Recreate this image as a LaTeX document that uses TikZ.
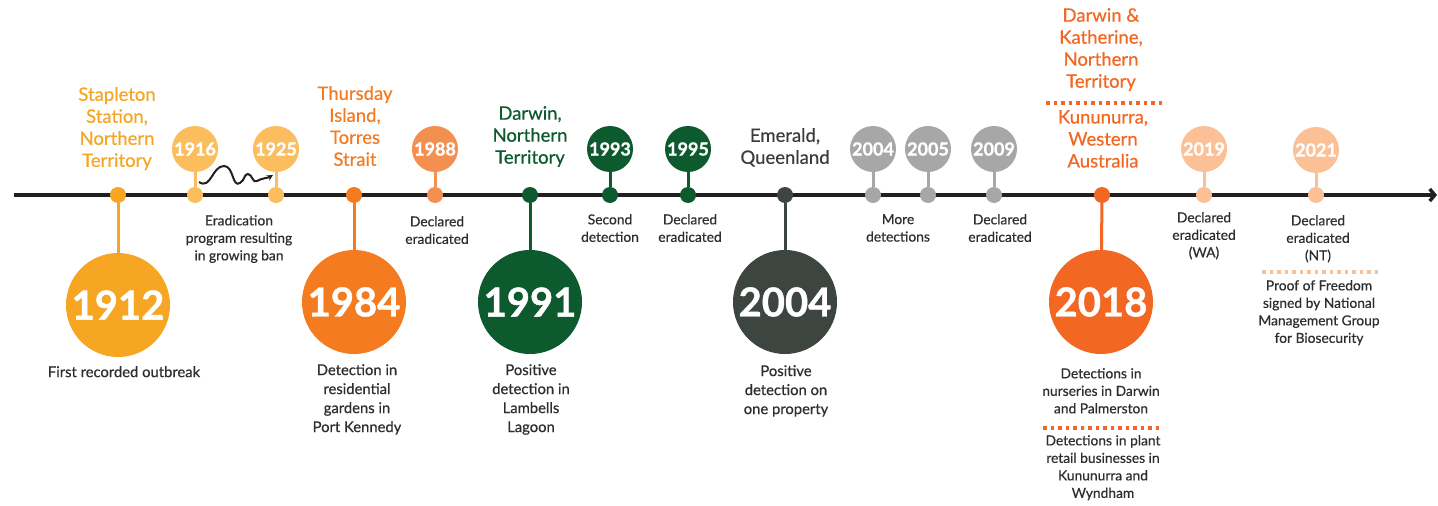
\documentclass[tikz,border=0pt]{standalone}
\usepackage{fontspec}
\setmainfont{Lato}
\newfontfamily\medfont{Lato}[FakeBold=0.5]
\newfontfamily\yrfont{Lato}[BoldFeatures={FakeBold=1}]
\usetikzlibrary{arrows.meta}

\definecolor{ink}{HTML}{231F20}
\definecolor{txt}{HTML}{2E2E2E}
\definecolor{cAmber}{HTML}{F6A623}
\definecolor{cAmberLt}{HTML}{FBBD5E}
\definecolor{cOrange}{HTML}{F47B20}
\definecolor{cOrangeLt}{HTML}{F3904F}
\definecolor{cGreen}{HTML}{0C5A2E}
\definecolor{cSlate}{HTML}{3C4540}
\definecolor{cSlateTxt}{HTML}{3C3C3C}
\definecolor{cGrey}{HTML}{A7A7A7}
\definecolor{cRed}{HTML}{F26722}
\definecolor{cPeach}{HTML}{FBC096}

% year digits: heavy bold, with white stroke so the glyph outlining stays white
\newcommand{\yrbig}{\yrfont\fontsize{40}{42}\selectfont\bfseries\pgfsetstrokecolor{white}}
\newcommand{\yrsmall}{\yrfont\fontsize{18}{20}\selectfont\bfseries\pgfsetstrokecolor{white}}
\newcommand{\placefnt}{\medfont\fontsize{18.5}{22}\selectfont}
\newcommand{\bodyS}{\medfont\fontsize{13.8}{17.5}\selectfont}
\newcommand{\bodyL}{\medfont\fontsize{14.8}{19}\selectfont}

\tikzset{
  dot/.style={circle, fill=#1, minimum size=16pt, inner sep=0pt},
  bigyear/.style={circle, fill=#1, minimum size=104pt, inner sep=0pt, text=white, font=\yrbig},
  smallyear/.style={circle, fill=#1, minimum size=46pt, inner sep=0pt, text=white, font=\yrsmall},
  stem/.style={draw=#1, line width=3pt},
  place/.style={align=center, text=#1, font=\placefnt, inner sep=0pt, anchor=north},
  body/.style={align=center, text=txt, font=\bodyS, inner sep=0pt, anchor=north},
  bodyl/.style={align=center, text=txt, font=\bodyL, inner sep=0pt, anchor=north},
  sep/.style={draw=#1, line width=3.5pt, dash pattern=on 3.5pt off 4pt},
  squig/.style={draw=ink, line width=2pt, -{Stealth[length=6pt,width=6pt]}},
}

\begin{document}
\begin{tikzpicture}[x=1pt,y=-1pt]
\useasboundingbox (0,0) rectangle (1438,506);
\fill[white] (0,0) rectangle (1438,506);

% main time axis
\coordinate (tlL) at (14,195);
\coordinate (tlR) at (1437,195);
\draw[ink, line width=3.5pt, -{Straight Barb[length=5pt,width=12pt]}] (tlL) -- (tlR);

% ---- 1912 ----
\node[dot=cAmber] (d1912) at (118,195) {};
\node[bigyear=cAmber] (y1912) at (118,305) {1912};
\draw[stem=cAmber] (d1912) -- (y1912);
\node[place=cAmber] (p1912) at (117,87) {Stapleton\\Station,\\Northern\\Territory};
\node[bodyl] (t1912) at (124,366) {First recorded outbreak};

% ---- 1916 / 1925 ----
\node[dot=cAmberLt] (d1916) at (195,195) {};
\node[smallyear=cAmberLt] (y1916) at (195,149) {1916};
\draw[stem=cAmberLt] (d1916) -- (y1916);
\node[dot=cAmberLt] (d1925) at (276,195) {};
\node[smallyear=cAmberLt] (y1925) at (276,149) {1925};
\draw[stem=cAmberLt] (d1925) -- (y1925);
\coordinate (sqA) at (199,182);
\coordinate (sqB) at (273,175);
\draw[squig] (sqA) .. controls +(12,8) and +(-12,0) .. (224,166)
  .. controls +(10,0) and +(-8,5) .. (240,183)
  .. controls +(5,-3) and +(-4,0) .. (248,174)
  .. controls +(4,0) and +(-4,3) .. (257,181)
  .. controls +(5,-3) and +(-5,3) .. (sqB);
\node[body] (t1916) at (239,215) {Eradication\\program resulting\\in growing ban};

% ---- 1984 ----
\node[dot=cOrange] (d1984) at (354,195) {};
\node[bigyear=cOrange] (y1984) at (354,302) {1984};
\draw[stem=cOrange] (d1984) -- (y1984);
\node[place=cOrange] (p1984) at (355,86) {Thursday\\Island,\\Torres\\Strait};
\node[bodyl] (t1984) at (357,364) {Detection in\\residential\\gardens in\\Port Kennedy};

% ---- 1988 ----
\node[dot=cOrangeLt] (d1988) at (435,195) {};
\node[smallyear=cOrangeLt] (y1988) at (435,149) {1988};
\draw[stem=cOrangeLt] (d1988) -- (y1988);
\node[body] (t1988) at (437,216) {Declared\\eradicated};

% ---- 1991 ----
\node[dot=cGreen] (d1991) at (530,195) {};
\node[bigyear=cGreen] (y1991) at (530,302) {1991};
\draw[stem=cGreen] (d1991) -- (y1991);
\node[place=cGreen] (p1991) at (530,106) {Darwin,\\Northern\\Territory};
\node[bodyl] (t1991) at (531,364) {Positive\\detection in\\Lambells\\Lagoon};

% ---- 1993 / 1995 ----
\node[dot=cGreen] (d1993) at (610,195) {};
\node[smallyear=cGreen] (y1993) at (610,149) {1993};
\draw[stem=cGreen] (d1993) -- (y1993);
\node[body] (t1993) at (610,214) {Second\\detection};
\node[dot=cGreen] (d1995) at (688,195) {};
\node[smallyear=cGreen] (y1995) at (688,149) {1995};
\draw[stem=cGreen] (d1995) -- (y1995);
\node[body] (t1995) at (690,214) {Declared\\eradicated};

% ---- 2004 (Emerald) ----
\node[dot=cSlate] (d2004) at (785,195) {};
\node[bigyear=cSlate] (y2004) at (785,302) {2004};
\draw[stem=cSlate] (d2004) -- (y2004);
\node[place=cSlateTxt] (p2004) at (785,128) {Emerald,\\Queenland};
\node[bodyl] (t2004) at (786,365) {Positive\\detection on\\one property};

% ---- 2004 / 2005 / 2009 ----
\node[dot=cGrey] (d2004b) at (873,195) {};
\node[smallyear=cGrey] (y2004b) at (873,149) {2004};
\draw[stem=cGrey] (d2004b) -- (y2004b);
\node[dot=cGrey] (d2005) at (928,195) {};
\node[smallyear=cGrey] (y2005) at (928,149) {2005};
\draw[stem=cGrey] (d2005) -- (y2005);
\node[body] (t2005) at (898,214) {More\\detections};
\node[dot=cGrey] (d2009) at (994,195) {};
\node[smallyear=cGrey] (y2009) at (994,149) {2009};
\draw[stem=cGrey] (d2009) -- (y2009);
\node[body] (t2009) at (1000,214) {Declared\\eradicated};

% ---- 2018 ----
\node[dot=cRed] (d2018) at (1102,195) {};
\node[bigyear=cRed] (y2018) at (1101,302) {2018};
\draw[stem=cRed] (d2018) -- (y2018);
\node[place=cRed] (p2018a) at (1101,8) {Darwin \&\\Katherine,\\Northern\\Territory};
\coordinate (s1a) at (1046,103);
\coordinate (s1b) at (1166,103);
\draw[sep=cRed] (s1a) -- (s1b);
\node[place=cRed] (p2018b) at (1103,110) {Kununurra,\\Western\\Australia};
\node[body] (t2018a) at (1101,368) {Detections in\\nurseries in Darwin\\and Palmerston};
\coordinate (s2a) at (1043,428);
\coordinate (s2b) at (1163,428);
\draw[sep=cRed] (s2a) -- (s2b);
\node[body] (t2018b) at (1103,435) {Detections in plant\\retail businesses in\\Kununurra and\\Wyndham};

% ---- 2019 ----
\node[dot=cPeach] (d2019) at (1204,195) {};
\node[smallyear=cPeach] (y2019) at (1204,149) {2019};
\draw[stem=cPeach] (d2019) -- (y2019);
\node[body] (t2019) at (1204,212) {Declared\\eradicated\\(WA)};

% ---- 2021 ----
\node[dot=cPeach] (d2021) at (1316,195) {};
\node[smallyear=cPeach] (y2021) at (1316,150) {2021};
\draw[stem=cPeach] (d2021) -- (y2021);
\node[body] (t2021a) at (1318,215) {Declared\\eradicated\\(NT)};
\coordinate (s3a) at (1262,272);
\coordinate (s3b) at (1380,272);
\draw[sep=cPeach] (s3a) -- (s3b);
\node[body] (t2021b) at (1319,280) {Proof of Freedom\\signed by National\\Management Group\\for Biosecurity};
\end{tikzpicture}
\end{document}
